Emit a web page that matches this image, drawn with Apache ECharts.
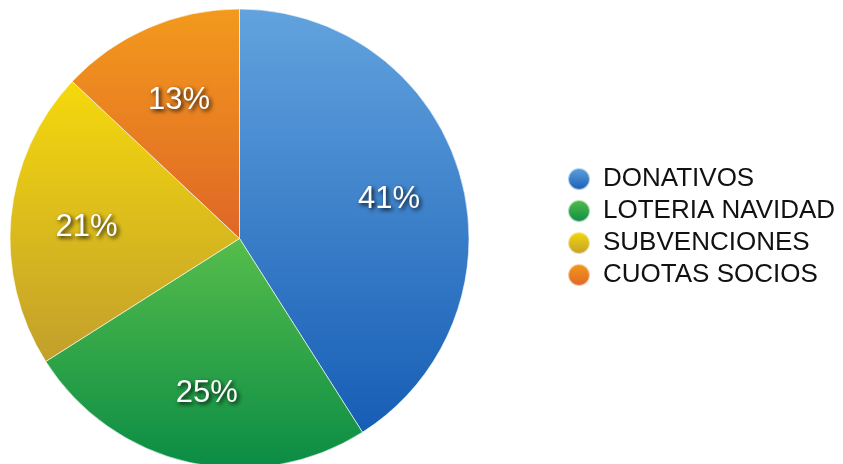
<!DOCTYPE html>
<html>
<head>
<meta charset="utf-8">
<script src="https://cdn.jsdelivr.net/npm/echarts@6/dist/echarts.min.js"></script>
<style>
  html, body { margin: 0; padding: 0; background: #fff; }
  #chart { width: 843px; height: 464px; }
</style>
</head>
<body>
<div id="chart"></div>
<script>
// datos del gráfico
var categorias = ["DONATIVOS", "LOTERIA NAVIDAD", "SUBVENCIONES", "CUOTAS SOCIOS"];
var porcentajes = [41, 25, 21, 13];
// degradado de cada porción: [arriba, abajo]
var colores = [
  ["#62a3de", "#165db5"],
  ["#56bd4b", "#0a8c45"],
  ["#f5d90c", "#c29f2c"],
  ["#f39a1c", "#df6627"]
];

function degradado(c) {
  return new echarts.graphic.LinearGradient(0, 0, 0, 1, [
    { offset: 0, color: c[0] },
    { offset: 1, color: c[1] }
  ]);
}

var chart = echarts.init(document.getElementById("chart"));

var datos = categorias.map(function (name, i) {
  return { name: name, value: porcentajes[i], itemStyle: { color: degradado(colores[i]) } };
});
// serie transparente solo para colocar las etiquetas
var etiquetas = categorias.map(function (name, i) {
  return { name: name, value: porcentajes[i] };
});

chart.setOption({
  animation: false,
  legend: {
    orient: "vertical",
    left: 562,
    top: 161,
    icon: "circle",
    itemWidth: 22,
    itemHeight: 22,
    itemGap: 6,
    textStyle: {
      fontSize: 26,
      lineHeight: 26,
      color: "#111",
      fontFamily: "Liberation Sans",
      padding: [0, 0, 0, 8]
    },
    data: categorias.map(function (name, i) {
      return { name: name, itemStyle: { color: degradado(colores[i]) } };
    })
  },
  series: [
    {
      type: "pie",
      center: [239.5, 238.5],
      radius: [0, 229.5],
      startAngle: 90,
      clockwise: true,
      silent: true,
      itemStyle: { borderColor: "rgba(255,255,255,0.6)", borderWidth: 1 },
      label: { show: false },
      labelLine: { show: false },
      data: datos
    },
    {
      type: "pie",
      center: [240.5, 242.5],
      radius: [74, 229.5],
      startAngle: 90,
      clockwise: true,
      silent: true,
      legendHoverLink: false,
      itemStyle: { color: "rgba(0,0,0,0)" },
      label: {
        show: true,
        position: "inside",
        formatter: "{c}%",
        color: "#fff",
        fontSize: 31,
        fontFamily: "Liberation Sans",
        textShadowColor: "rgba(0,0,0,0.9)",
        textShadowBlur: 4,
        textShadowOffsetX: 2,
        textShadowOffsetY: 2
      },
      labelLine: { show: false },
      data: etiquetas
    }
  ]
});
</script>
</body>
</html>
